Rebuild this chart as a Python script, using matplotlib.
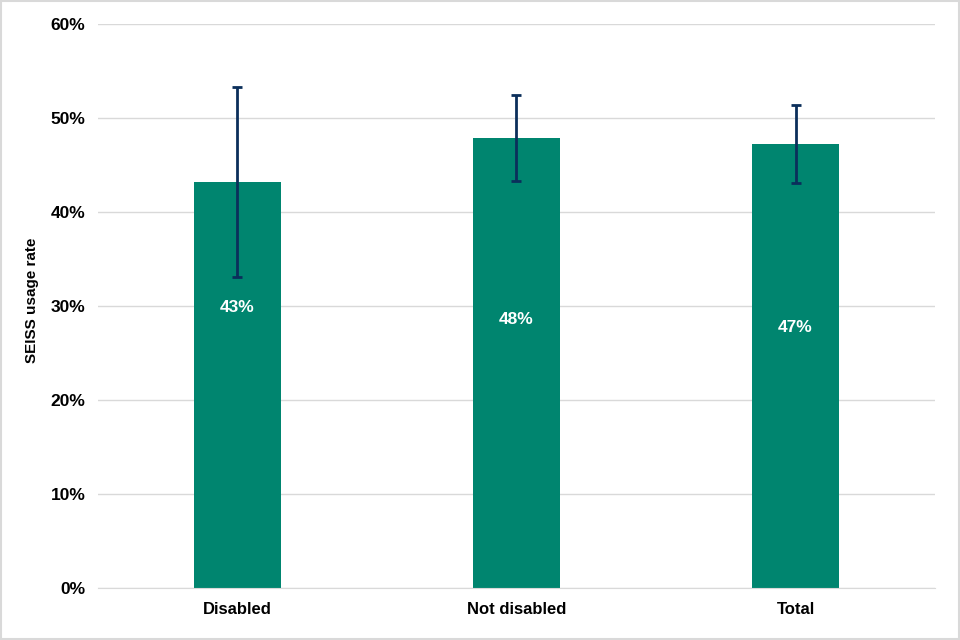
import matplotlib
matplotlib.use("Agg")
import matplotlib.pyplot as plt
from matplotlib.ticker import FuncFormatter, MultipleLocator

plt.rcParams["font.family"] = ["Liberation Sans", "DejaVu Sans"]

# ── data ─────────────────────────────────────────────────────────────────────
categories = ["Disabled", "Not disabled", "Total"]
usage_rate = [43.2, 47.9, 47.2]
ci_upper = [53.3, 52.4, 51.4]
ci_lower = [33.1, 43.3, 43.1]
bar_labels = ["43%", "48%", "47%"]
label_y = [29.8, 28.6, 27.7]

bar_color = "#00856F"
err_color = "#0B2F5B"

fig = plt.figure(figsize=(9.6, 6.4), dpi=100)
ax = fig.add_axes([0.102, 0.0813, 0.872, 0.8812])

x = list(range(len(categories)))
yerr = [[v - lo for v, lo in zip(usage_rate, ci_lower)],
        [hi - v for v, hi in zip(usage_rate, ci_upper)]]
ax.bar(x, usage_rate, width=0.31, color=bar_color, zorder=2)
ax.errorbar(x, usage_rate, yerr=yerr, fmt="none", ecolor=err_color,
            elinewidth=2, capsize=3.5, capthick=2, zorder=3)

for xi, lab, ly in zip(x, bar_labels, label_y):
    ax.text(xi, ly, lab, ha="center", va="center", color="white",
            fontsize=12.5, fontweight="bold", zorder=4)

ax.set_xlim(-0.5, 2.5)
ax.set_ylim(0, 60)
ax.yaxis.set_major_locator(MultipleLocator(10))
ax.yaxis.set_major_formatter(FuncFormatter(lambda v, _: f"{v:.0f}%"))
ax.grid(axis="y", color="#D9D9D9", lw=1, zorder=0)
ax.set_axisbelow(True)
for s in ["top", "right", "left"]:
    ax.spines[s].set_visible(False)
ax.spines["bottom"].set_color("#D9D9D9")
ax.tick_params(axis="y", length=0, labelsize=12.5, pad=9)
ax.tick_params(axis="x", length=0, labelsize=12, pad=10)
ax.set_xticks(x)
ax.set_xticklabels(categories, fontweight="bold")
for t in ax.get_yticklabels():
    t.set_fontweight("bold")
ax.set_ylabel("SEISS usage rate", fontsize=11, fontweight="bold")
ax.yaxis.set_label_coords(-0.07, 0.51)

fig.patches.append(plt.Rectangle((0.0008, 0.0012), 0.9984, 0.9976, transform=fig.transFigure,
                                 fill=False, edgecolor="#D9D9D9", lw=1.5))

plt.savefig("out.png", dpi=100)
